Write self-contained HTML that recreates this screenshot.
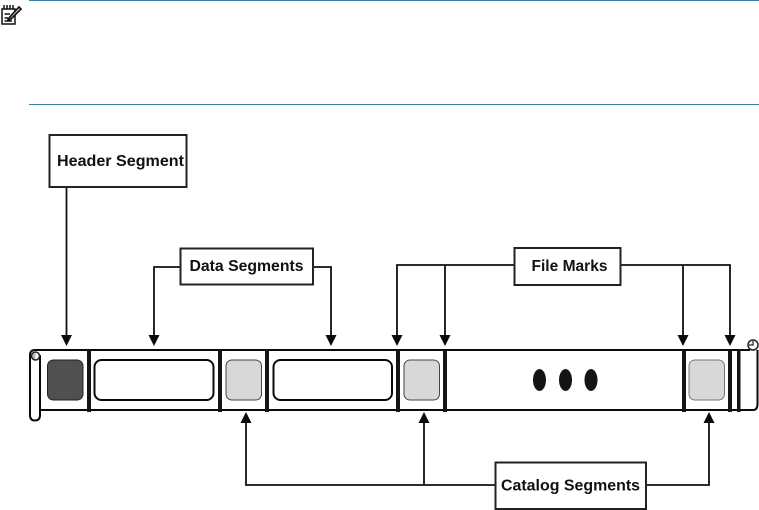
<!DOCTYPE html>
<html><head><meta charset="utf-8"><style>
html,body{margin:0;padding:0;background:#fff;width:759px;height:510px;overflow:hidden}
svg{display:block}
text{font-family:"Liberation Sans",Arial,sans-serif;font-weight:bold;font-size:15.5px;fill:#111}
</style></head><body>
<svg width="759" height="510" viewBox="0 0 759 510" xmlns="http://www.w3.org/2000/svg">
<rect x="29" y="0" width="730" height="1" fill="#0096d6"/>
<rect x="29" y="104" width="730" height="1" fill="#0096d6"/>
<!-- note icon -->
<g fill="none" stroke="#111" stroke-width="1.500">
<path d="M2 9H15V24H2Z" fill="#fff"/>
<path d="M4 5V9M7 5V9M10 5V9M13 5V9M4.500 14H10M4.500 18H8M4.500 21H12"/>
<path d="M9 18L19 7L21 9L11 19L8 20Z" fill="#fff" stroke-width="1.700"/>
</g>
<!-- connectors -->
<g fill="none" stroke="#111" stroke-width="1.800">
<path d="M66.500 187V336"/>
<path d="M180 267H154V336M313 267H331V336"/>
<path d="M514 265H397V336M445 265V336M621 265H730V336M683 265V336"/>
<path d="M495 485H246V422M424 485V422M646 485H709V422"/>
</g>
<g fill="#0a0a0a">
<path d="M61 335H72L66.500 346Z"/>
<path d="M148.500 335H159.500L154 346Z"/>
<path d="M325.500 335H336.500L331 346Z"/>
<path d="M391.500 335H402.500L397 346Z"/>
<path d="M439.500 335H450.500L445 346Z"/>
<path d="M677.500 335H688.500L683 346Z"/>
<path d="M724.500 335H735.500L730 346Z"/>
<path d="M240.500 423H251.500L246 412Z"/>
<path d="M418.500 423H429.500L424 412Z"/>
<path d="M703.500 423H714.500L709 412Z"/>
</g>
<!-- label boxes -->
<g fill="#fff" stroke="#222" stroke-width="2">
<rect x="49.500" y="135" width="137" height="52"/>
<rect x="180.500" y="248.500" width="132.500" height="36"/>
<rect x="514.500" y="248" width="106" height="37"/>
<rect x="495.500" y="462.500" width="150.500" height="46.500"/>
</g>
<text x="57" y="166" textLength="127" lengthAdjust="spacingAndGlyphs">Header Segment</text>
<text x="189.500" y="271" textLength="114" lengthAdjust="spacingAndGlyphs">Data Segments</text>
<text x="531.500" y="271" textLength="76" lengthAdjust="spacingAndGlyphs">File Marks</text>
<text x="501" y="490.500" textLength="139" lengthAdjust="spacingAndGlyphs">Catalog Segments</text>
<!-- tape -->
<g fill="none" stroke="#0a0a0a" stroke-width="2">
<path d="M35 350H750"/>
<path d="M40 410H753Q757.500 410 757.500 404V350"/>
<path d="M40 355V415Q40 420.500 35 420.500Q30 420.500 30 415V355Q30 350 35 350"/>
</g>
<path d="M35.500 352A4 4 0 0 0 35.500 360Z" fill="#bbb"/>
<circle cx="35.500" cy="356" r="4" fill="none" stroke="#222" stroke-width="1.500"/>
<path d="M753 340A5 5 0 0 1 753 350A5 5 0 0 1 753 340Z" fill="#fff" stroke="#222" stroke-width="1.500"/>
<path d="M753 341V345H749" fill="none" stroke="#222" stroke-width="1.200"/>
<!-- bars -->
<g fill="#151515">
<rect x="87" y="350" width="4" height="62"/>
<rect x="218" y="350" width="4" height="62"/>
<rect x="265" y="350" width="4" height="62"/>
<rect x="396" y="350" width="4" height="62"/>
<rect x="443" y="350" width="4" height="62"/>
<rect x="682" y="350" width="4" height="62"/>
<rect x="728" y="350" width="4" height="62"/>
<rect x="737" y="350" width="3.500" height="62"/>
</g>
<!-- segments -->
<rect x="47.500" y="360" width="35.500" height="40" rx="6" fill="#505050" stroke="#222" stroke-width="1"/>
<rect x="94.500" y="360" width="119" height="40" rx="7" fill="#fff" stroke="#0a0a0a" stroke-width="2"/>
<rect x="226" y="360" width="35.500" height="40" rx="6" fill="#d8d8d8" stroke="#444" stroke-width="1"/>
<rect x="273.500" y="360" width="118.500" height="40" rx="7" fill="#fff" stroke="#0a0a0a" stroke-width="2"/>
<rect x="404" y="360" width="35.500" height="40" rx="6" fill="#d8d8d8" stroke="#444" stroke-width="1"/>
<rect x="689" y="360" width="35.500" height="40" rx="6" fill="#d8d8d8" stroke="#777" stroke-width="1"/>
<g fill="#151515">
<ellipse cx="539.500" cy="380" rx="6.500" ry="11"/>
<ellipse cx="565.500" cy="380" rx="6.500" ry="11"/>
<ellipse cx="591" cy="380" rx="6.500" ry="11"/>
</g>
</svg>
</body></html>
